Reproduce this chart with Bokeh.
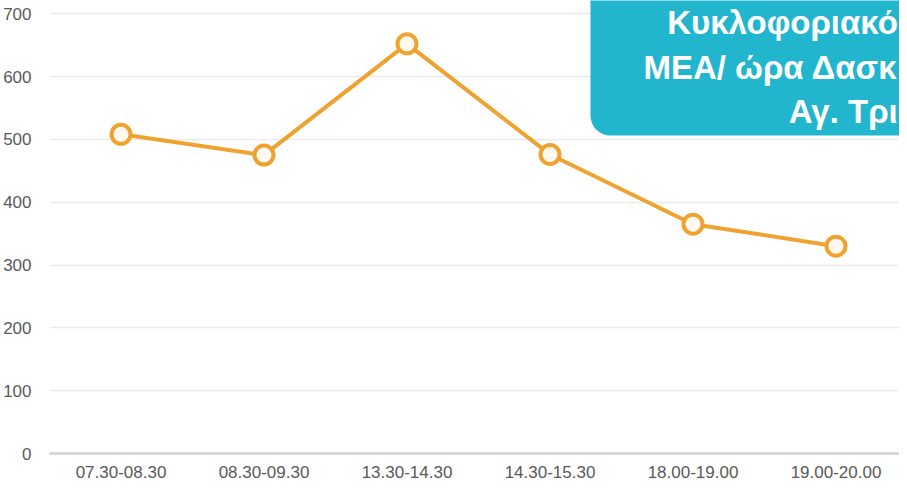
from bokeh.plotting import figure
from bokeh.models import Range1d, FixedTicker, ColumnDataSource
from bokeh.core.properties import value
from bokeh.embed import file_html
from bokeh.resources import INLINE

# ---- data ----
categories = ["07.30-08.30", "08.30-09.30", "13.30-14.30", "14.30-15.30", "18.00-19.00", "19.00-20.00"]
vehicles = [508, 475, 652, 476, 365, 330]
y_ticks = [0, 100, 200, 300, 400, 500, 600, 700]
title_lines = ["Κυκλοφοριακό", "ΜΕΑ/ ώρα Δασκ", "Αγ. Τρι"]

ORANGE = "#F0A230"
TEAL = "#22B6CE"
AXIS_FONT = "Liberation Sans"

xs = list(range(len(categories)))
X_END = 5.444

p = figure(width=899, height=480, output_backend="svg", toolbar_location=None,
           x_range=Range1d(-0.5, X_END), y_range=Range1d(0, 721),
           min_border_left=49, min_border_right=0, min_border_top=0, min_border_bottom=0)
p.outline_line_color = None
p.background_fill_color = "white"
p.border_fill_color = "white"

# axes
p.xaxis.ticker = FixedTicker(ticks=xs)
p.xaxis.major_label_overrides = {i: c for i, c in enumerate(categories)}
p.yaxis.ticker = FixedTicker(ticks=y_ticks)
for ax in (p.xaxis[0], p.yaxis[0]):
    ax.major_tick_line_color = None
    ax.minor_tick_line_color = None
    ax.major_label_text_font = AXIS_FONT
    ax.major_label_text_font_size = "17px"
    ax.major_label_text_color = "#595959"
p.yaxis.axis_line_color = None
p.yaxis.major_label_standoff = 12
p.xaxis.axis_line_color = "#D9D9D9"
p.xaxis.axis_line_width = 3
p.xaxis.major_label_standoff = 6

p.xgrid.grid_line_color = None
p.ygrid.grid_line_color = "#EBEBEB"
p.ygrid.grid_line_width = 1.5

# title box (runs off the right edge, as in the reference)
box_left, box_bottom = 3.283, 506
p.quad(left=[box_left], right=[6.5], bottom=[box_bottom], top=[900],
       fill_color=TEAL, line_color=None, border_radius=20)

title_y = [686, 615, 544]
p.text(x=[X_END - 0.012] * 3, y=title_y, text=title_lines, text_color="white",
       text_font=value("Liberation Sans"), text_font_style="bold",
       text_font_size="33px", text_baseline="alphabetic", text_align="right")

# series
src = ColumnDataSource(dict(x=xs, y=vehicles))
p.line("x", "y", source=src, line_color=ORANGE, line_width=4)
p.scatter("x", "y", source=src, marker="circle", size=19, line_width=4,
          line_color=ORANGE, fill_color="#FFF9F0")

open("out.html", "w").write(file_html(p, INLINE))
